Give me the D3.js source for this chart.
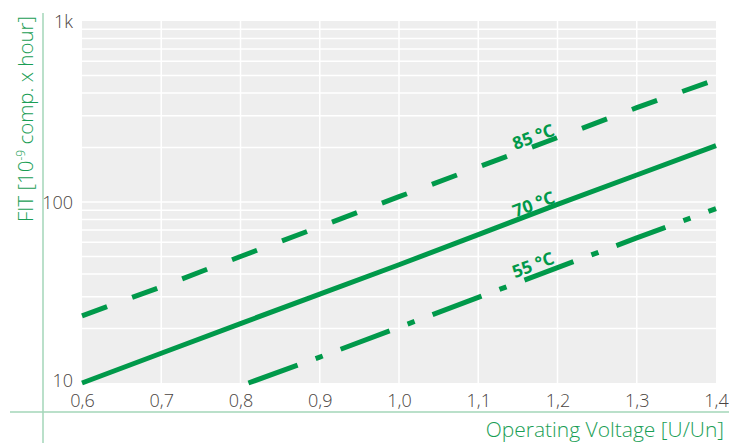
<!DOCTYPE html>
<html><head><meta charset="utf-8">
<script src="https://cdn.jsdelivr.net/npm/d3@7"></script>
<style>
html,body{margin:0;padding:0;background:#fff;}
svg{display:block;}
</style></head>
<body>
<svg id="chart" width="729" height="443"></svg>
<script>
// ---- data ----
const voltage = [0.6, 0.7, 0.8, 0.9, 1.0, 1.1, 1.2, 1.3, 1.4];
const fit85 = [23.5, 34, 50, 73, 107, 156, 227, 332, 475];
const fit70 = [10, 14.6, 21.3, 31, 45, 66, 97, 141, 205];
const voltage55 = [0.81, 0.9, 1.0, 1.1, 1.2, 1.3, 1.4];
const fit55 = [10, 13.9, 20.3, 29.7, 43.4, 63.3, 92];
const seriesLabels = ["85 °C", "70 °C", "55 °C"];
const xTicks = [0.6, 0.7, 0.8, 0.9, 1.0, 1.1, 1.2, 1.3, 1.4];
const yTicks = [10, 100, 1000];
const yTickLabels = ["10", "100", "1k"];
const yGrid = [20,30,40,50,60,70,80,90,100,200,300,400,500,600,700,800,900];

const green = "#00994a";
const svg = d3.select("#chart");
const x = d3.scaleLinear().domain([0.6, 1.4]).range([82, 716]);
const y = d3.scaleLog().domain([10, 1000]).range([383, 21]);

// background
svg.append("rect").attr("x", x(0.6)).attr("y", y(1000))
  .attr("width", x(1.4) - x(0.6)).attr("height", y(10) - y(1000)).attr("fill", "#eeeeee");

// grid
svg.append("g").selectAll("line").data(yGrid).join("line")
  .attr("x1", x(0.6)).attr("x2", x(1.4)).attr("y1", d => y(d)).attr("y2", d => y(d))
  .attr("stroke", "#fff").attr("stroke-width", 1.5);
svg.append("g").selectAll("line").data(xTicks.slice(1, -1)).join("line")
  .attr("x1", d => x(d)).attr("x2", d => x(d)).attr("y1", y(1000)).attr("y2", y(10))
  .attr("stroke", "#fff").attr("stroke-width", 1.5);

// axes frame lines
svg.append("line").attr("x1", 10).attr("x2", 729).attr("y1", 412).attr("y2", 412)
  .attr("stroke", "#a3d6b8").attr("stroke-width", 1.5);
svg.append("line").attr("x1", 43).attr("x2", 43).attr("y1", 13).attr("y2", 443)
  .attr("stroke", "#a3d6b8").attr("stroke-width", 1.5);

// tick labels
const font = "'Open Sans', 'Lato', sans-serif";
const xAxis = svg.append("g").attr("transform", `translate(0,${y(10)})`)
  .call(d3.axisBottom(x).tickValues(xTicks).tickSize(0).tickPadding(11)
    .tickFormat(d => d3.format(".1f")(d).replace(".", ",")));
xAxis.select(".domain").remove();
xAxis.selectAll("text").attr("font-family", font).attr("font-weight", 300)
  .attr("font-size", 18).attr("fill", "#4a4441");

const yAxis = svg.append("g").attr("transform", `translate(${x(0.6) - 9},0)`)
  .call(d3.axisLeft(y).tickValues(yTicks).tickSize(0).tickPadding(0)
    .tickFormat((d, i) => yTickLabels[i]));
yAxis.select(".domain").remove();
yAxis.selectAll("text").attr("font-family", font).attr("font-weight", 300)
  .attr("font-size", 18).attr("fill", "#4a4441")
  .attr("dy", (d, i) => i === 0 ? "0.22em" : "0.38em");

// lines
const line = d3.line().x(d => x(d[0])).y(d => y(d[1]));
const series = [
  {pts: voltage.map((v, i) => [v, fit85[i]]), dash: "26.7,26.7", label: seriesLabels[0]},
  {pts: voltage.map((v, i) => [v, fit70[i]]), dash: null, label: seriesLabels[1]},
  {pts: voltage55.map((v, i) => [v, fit55[i]]), dash: "52.3,19.2,7.5,19.2", label: seriesLabels[2]}
];
svg.append("g").selectAll("path").data(series).join("path")
  .attr("d", d => line(d.pts)).attr("fill", "none").attr("stroke", green)
  .attr("stroke-width", 5).attr("stroke-dasharray", d => d.dash);

// labels along lines
const labelV = 1.174;
const labelOffsets = [-4, -3, -5];
series.forEach((s, i) => {
  const p0 = s.pts[0], p1 = s.pts[s.pts.length - 1];
  const t = (labelV - p0[0]) / (p1[0] - p0[0]);
  const lv = Math.pow(10, Math.log10(p0[1]) + t * (Math.log10(p1[1]) - Math.log10(p0[1])));
  const px = x(labelV), py = y(lv);
  const ang = Math.atan2(y(p1[1]) - y(p0[1]), x(p1[0]) - x(p0[0])) * 180 / Math.PI;
  svg.append("text").attr("transform", `translate(${px},${py}) rotate(${ang})`)
    .attr("y", labelOffsets[i]).attr("text-anchor", "middle")
    .attr("font-family", font).attr("font-weight", 700).attr("font-size", 17.5)
    .attr("fill", green).text(s.label);
});

// axis titles
const yt = svg.append("text").attr("transform", "translate(33,119) rotate(-90)")
  .attr("text-anchor", "middle").attr("font-family", font).attr("font-weight", 300)
  .attr("font-size", 20.5).attr("fill", "#1a9e55");
yt.append("tspan").text("FIT [10");
yt.append("tspan").attr("font-size", 12).attr("dy", -8).text("-9");
yt.append("tspan").attr("dy", 8).text(" comp. x hour]");

svg.append("text").attr("x", 724).attr("y", 437).attr("text-anchor", "end")
  .attr("font-family", font).attr("font-weight", 300).attr("font-size", 21)
  .attr("fill", "#1a9e55").text("Operating Voltage [U/Un]");
</script>
</body></html>
